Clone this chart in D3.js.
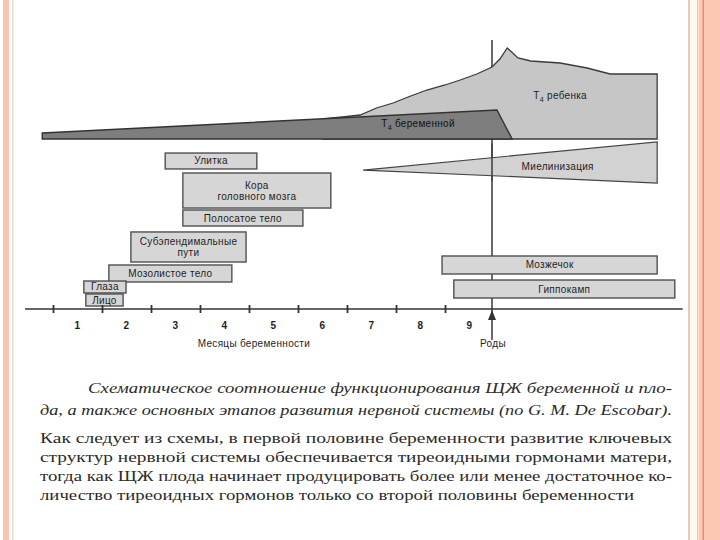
<!DOCTYPE html>
<html>
<head>
<meta charset="utf-8">
<script src="https://d3js.org/d3.v7.min.js"></script>
<style>
  body { margin: 0; background: #fff; }
  svg { display: block; }
  .lbl { font-family: "Liberation Sans", Arial, sans-serif; font-size: 10px; fill: #1e1e1e; letter-spacing: 0.3px; }
  .cap { font-family: "Liberation Serif", "Times New Roman", serif; font-size: 15.5px; fill: #2a2a2a; }
</style>
</head>
<body>
<svg width="720" height="540"></svg>
<script>
// month boundaries 0..9, birth at 9
var months = [1, 2, 3, 4, 5, 6, 7, 8, 9];
var tickMonths = [0, 1, 2, 3, 4, 5, 6, 7, 8];

// hormone curves: [month, relative level 0..100]
var maternalT4 = [[-0.22, 6], [9.06, 29], [9.37, 0], [-0.22, 0]];
var fetalT4 = [[5.5, 20], [5.9, 22], [6.27, 24], [6.6, 31], [6.94, 36], [7.3, 43], [7.63, 49],
               [8.0, 54], [8.31, 59], [8.65, 65], [8.96, 72], [9.12, 80], [9.27, 91], [9.49, 81],
               [9.75, 78], [10.35, 76], [10.9, 71], [11.37, 65], [12.33, 65]];

// development stages: name lines, start month, end month, lower / upper row level
var stageNames = [["Улитка"], ["Кора", "головного мозга"], ["Полосатое тело"], ["Субэпендимальные", "пути"],
                  ["Мозолистое тело"], ["Глаза"], ["Лицо"], ["Мозжечок"], ["Гиппокамп"]];
var stageStart = [2.29, 2.65, 2.65, 1.59, 1.14, 0.63, 0.67, 7.94, 8.18];
var stageEnd   = [4.16, 5.67, 5.10, 3.94, 3.65, 1.49, 1.43, 12.33, 12.69];
var stageLow   = [15.56, 11.22, 9.22, 5.22, 3.0, 1.78, 0.33, 3.89, 1.22];
var stageHigh  = [17.33, 15.11, 11.0, 8.56, 4.89, 3.11, 1.67, 5.89, 3.22];

// myelination wedge: [month, row level]
var myelin = [[6.33, 15.44], [12.33, 18.56], [12.33, 14.0]];

var captionLines = [
  "Схематическое соотношение функционирования ЩЖ беременной и пло-",
  "да, а также основных этапов развития нервной системы (по G. M. De Escobar).",
  "Как следует из схемы, в первой половине беременности развитие ключевых",
  "структур нервной системы обеспечивается тиреоидными гормонами матери,",
  "тогда как ЩЖ плода начинает продуцировать более или менее достаточное ко-",
  "личество тиреоидных гормонов только со второй половины беременности"
];

var svg = d3.select("svg");

// slide frame
svg.append("rect").attr("x", 3).attr("y", 0).attr("width", 6).attr("height", 540).attr("fill", "#f9c3ad");
svg.append("rect").attr("x", 12).attr("y", 0).attr("width", 1.5).attr("height", 540).attr("fill", "#f3d9c8");
svg.append("rect").attr("x", 688).attr("y", 0).attr("width", 2).attr("height", 540).attr("fill", "#e8c8b8");
svg.append("rect").attr("x", 690).attr("y", 0).attr("width", 7).attr("height", 540).attr("fill", "#fff8ee");
svg.append("rect").attr("x", 697).attr("y", 0).attr("width", 1.5).attr("height", 540).attr("fill", "#f2c6b0");
svg.append("rect").attr("x", 699).attr("y", 0).attr("width", 21).attr("height", 540).attr("fill", "#fcc8b4");
svg.append("rect").attr("x", 702.5).attr("y", 0).attr("width", 1.5).attr("height", 540).attr("fill", "#ee8a6c");

// scales
var x = d3.scaleLinear().domain([0, 9]).range([53, 494]);
var yH = d3.scaleLinear().domain([0, 100]).range([139, 39]);   // hormone panel
var yR = d3.scaleLinear().domain([0, 30]).range([309, 39]);    // stage rows

var hLine = d3.line().x(d => x(d[0])).y(d => yH(d[1]));

// birth line (behind the hormone areas and boxes)
svg.append("line")
  .attr("x1", x(9) - 2).attr("x2", x(9) - 2)
  .attr("y1", 40).attr("y2", 340)
  .attr("stroke", "#444").attr("stroke-width", 1.6);

// fetal T4 (drawn first, maternal on top)
var fetalArea = d3.area().x(d => x(d[0])).y0(yH(0)).y1(d => yH(d[1]));
svg.append("path").datum(fetalT4)
  .attr("d", fetalArea)
  .attr("fill", "#c6c6c6").attr("stroke", "#3a3a3a").attr("stroke-width", 1.3);

svg.append("path").datum(maternalT4)
  .attr("d", hLine(maternalT4) + "Z")
  .attr("fill", "#7e7e7e").attr("stroke", "#333").attr("stroke-width", 1.4);

function t4Label(tx, ty, rest) {
  var t = svg.append("text").attr("class", "lbl").attr("x", tx).attr("y", ty)
    .attr("text-anchor", "middle");
  t.append("tspan").text("T");
  t.append("tspan").attr("font-size", "7px").attr("dy", 3).text("4");
  t.append("tspan").attr("dy", -3).text(" " + rest);
  return t;
}
t4Label(x(10.35), yH(40), "ребенка");
t4Label(x(7.45), yH(12), "беременной").style("fill", "#111");

// myelination wedge (birth line shows through it)
svg.append("path")
  .attr("d", d3.line().x(d => x(d[0])).y(d => yR(d[1]))(myelin) + "Z")
  .attr("fill", "#d2d2d2").attr("stroke", "#444").attr("stroke-width", 1.2);
svg.append("line")
  .attr("x1", x(9) - 2).attr("x2", x(9) - 2)
  .attr("y1", yR(18.4)).attr("y2", yR(14.2))
  .attr("stroke", "#444").attr("stroke-width", 1.6);
svg.append("text").attr("class", "lbl").attr("x", x(10.3)).attr("y", yR(15.7))
  .attr("text-anchor", "middle").attr("dominant-baseline", "middle").text("Миелинизация");

// stage boxes
var stages = stageNames.map((n, i) => ({name: n, s: stageStart[i], e: stageEnd[i], lo: stageLow[i], hi: stageHigh[i]}));
var g = svg.append("g").selectAll("g").data(stages).enter().append("g");
g.append("rect")
  .attr("x", d => x(d.s)).attr("y", d => yR(d.hi))
  .attr("width", d => x(d.e) - x(d.s)).attr("height", d => yR(d.lo) - yR(d.hi))
  .attr("fill", "#d6d6d6").attr("stroke", "#505050").attr("stroke-width", 1.4);
g.each(function(d) {
  var cx = (x(d.s) + x(d.e)) / 2;
  var cy = (yR(d.lo) + yR(d.hi)) / 2;
  var n = d.name.length;
  var t = d3.select(this).append("text").attr("class", "lbl").attr("text-anchor", "middle");
  d.name.forEach(function(line, k) {
    t.append("tspan").attr("x", cx).attr("y", cy + 3.5 + (k - (n - 1) / 2) * 11).text(line);
  });
});

// axis
svg.append("line")
  .attr("x1", x(-0.57)).attr("x2", x(12.85))
  .attr("y1", 309).attr("y2", 309)
  .attr("stroke", "#333").attr("stroke-width", 1.5);
var axis = d3.axisBottom(x).tickValues(tickMonths).tickFormat("").tickSize(5).tickSizeOuter(0);
var ag = svg.append("g").attr("transform", "translate(0,308)").call(axis);
ag.select(".domain").remove();
ag.selectAll(".tick line").attr("stroke", "#333").attr("stroke-width", 1.8).attr("y1", -3);

svg.append("g").selectAll("text").data(months).enter().append("text")
  .attr("class", "lbl").attr("x", d => x(d - 0.5)).attr("y", 329)
  .attr("text-anchor", "middle").style("font-weight", "bold").text(d => d);

// birth arrow
svg.append("path")
  .attr("d", d3.line()([[x(9) - 6, 320], [x(9) - 2, 310], [x(9) + 2, 320]]) + "Z")
  .attr("fill", "#333");

svg.append("text").attr("class", "lbl").attr("x", x(4.1)).attr("y", 347)
  .attr("text-anchor", "middle").text("Месяцы беременности");
svg.append("text").attr("class", "lbl").attr("x", x(9) - 1).attr("y", 347)
  .attr("text-anchor", "middle").text("Роды");

// caption
var capX = [88, 40, 40, 40, 40, 40];
var capEnd = [672, 672, 672, 672, 672, 634];
var capY = [393, 415, 443, 462, 481, 500];
var capItalic = [true, true, false, false, false, false];
captionLines.forEach(function(line, i) {
  svg.append("text").attr("class", "cap")
    .attr("x", capX[i]).attr("y", capY[i])
    .style("font-style", capItalic[i] ? "italic" : "normal")
    .attr("textLength", capEnd[i] - capX[i]).attr("lengthAdjust", "spacingAndGlyphs")
    .text(line);
});
</script>
</body>
</html>
